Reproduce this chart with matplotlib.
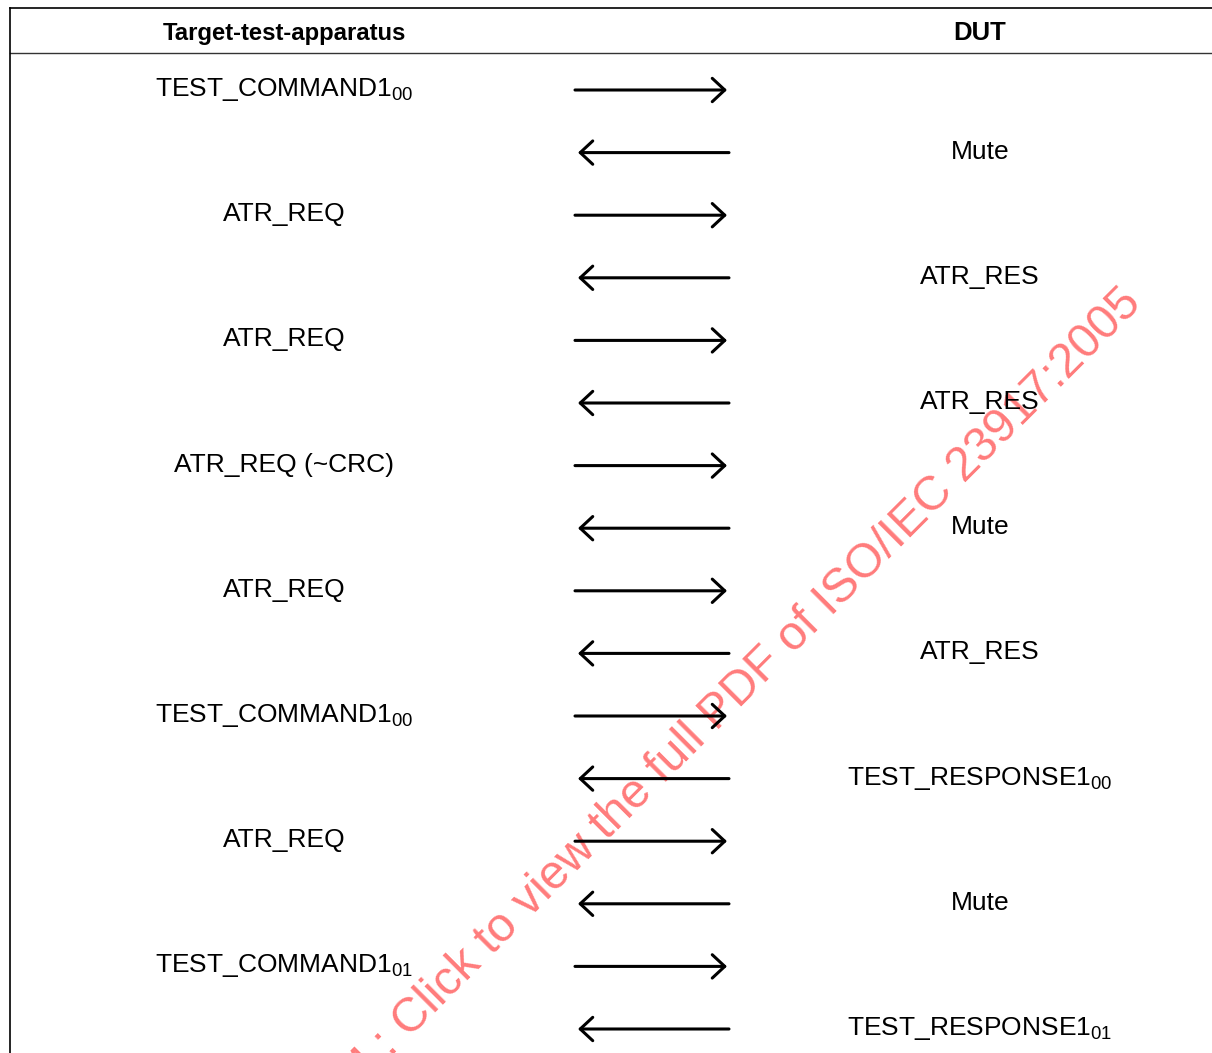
import matplotlib
matplotlib.use("Agg")
import matplotlib.pyplot as plt
from matplotlib.patches import FancyArrowPatch

plt.rcParams['font.family'] = ['Liberation Sans', 'DejaVu Sans']
plt.rcParams['mathtext.fontset'] = 'custom'
plt.rcParams['mathtext.rm'] = 'Liberation Sans'

# message sequence, top to bottom
labels = ["TEST_COMMAND1", "Mute", "ATR_REQ", "ATR_RES", "ATR_REQ", "ATR_RES",
          "ATR_REQ (~CRC)", "Mute", "ATR_REQ", "ATR_RES", "TEST_COMMAND1",
          "TEST_RESPONSE1", "ATR_REQ", "Mute", "TEST_COMMAND1", "TEST_RESPONSE1"]
subscripts = ["00", "", "", "", "", "", "", "", "", "", "00", "00", "", "", "01", "01"]
# 1 = apparatus -> DUT, -1 = DUT -> apparatus
directions = [1, -1, 1, -1, 1, -1, 1, -1, 1, -1, 1, -1, 1, -1, 1, -1]

headers = ["Target-test-apparatus", "DUT"]
watermark = "ECNORM.COM : Click to view the full PDF of ISO/IEC 23917:2005"

W, H = 1212, 1053
fig = plt.figure(figsize=(W / 100, H / 100), dpi=100)
ax = fig.add_axes([0, 0, 1, 1])
ax.set_xlim(0, W)
ax.set_ylim(H, 0)
ax.axis('off')

left_x, right_x = 284, 980
row0, row_step = 90, 62.6

# table frame
ax.plot([10, W], [8, 8], color='black', lw=1.2)
ax.plot([10, W], [53, 53], color='#333333', lw=1.0)
ax.plot([10, 10], [8, H], color='black', lw=1.2)

ax.text(left_x, 40, headers[0], ha='center', va='baseline', fontsize=17.2, fontweight='bold')
ax.text(right_x, 40, headers[1], ha='center', va='baseline', fontsize=18.5, fontweight='bold')

# watermark behind everything
ax.text(1143, 305, watermark, rotation=45, rotation_mode='anchor', ha='right', va='baseline',
        fontsize=34.5, color='#ff7b7b', zorder=1)

for i, (lab, sub, d) in enumerate(zip(labels, subscripts, directions)):
    y = row0 + i * row_step
    s = lab + (r"$_{\mathregular{%s}}$" % sub if sub else "")
    tx = left_x if d == 1 else right_x
    ax.text(tx, y + 6, s, ha='center', va='baseline', fontsize=19, zorder=3)
    if d == 1:
        a, b = (575, y), (727, y)
    else:
        a, b = (729, y), (578, y)
    arr = FancyArrowPatch(a, b, arrowstyle='->,head_length=0.45,head_width=0.42',
                          mutation_scale=20, lw=2.2, color='black', zorder=4,
                          shrinkA=0, shrinkB=0)
    ax.add_patch(arr)

fig.savefig('out.png', dpi=100)
